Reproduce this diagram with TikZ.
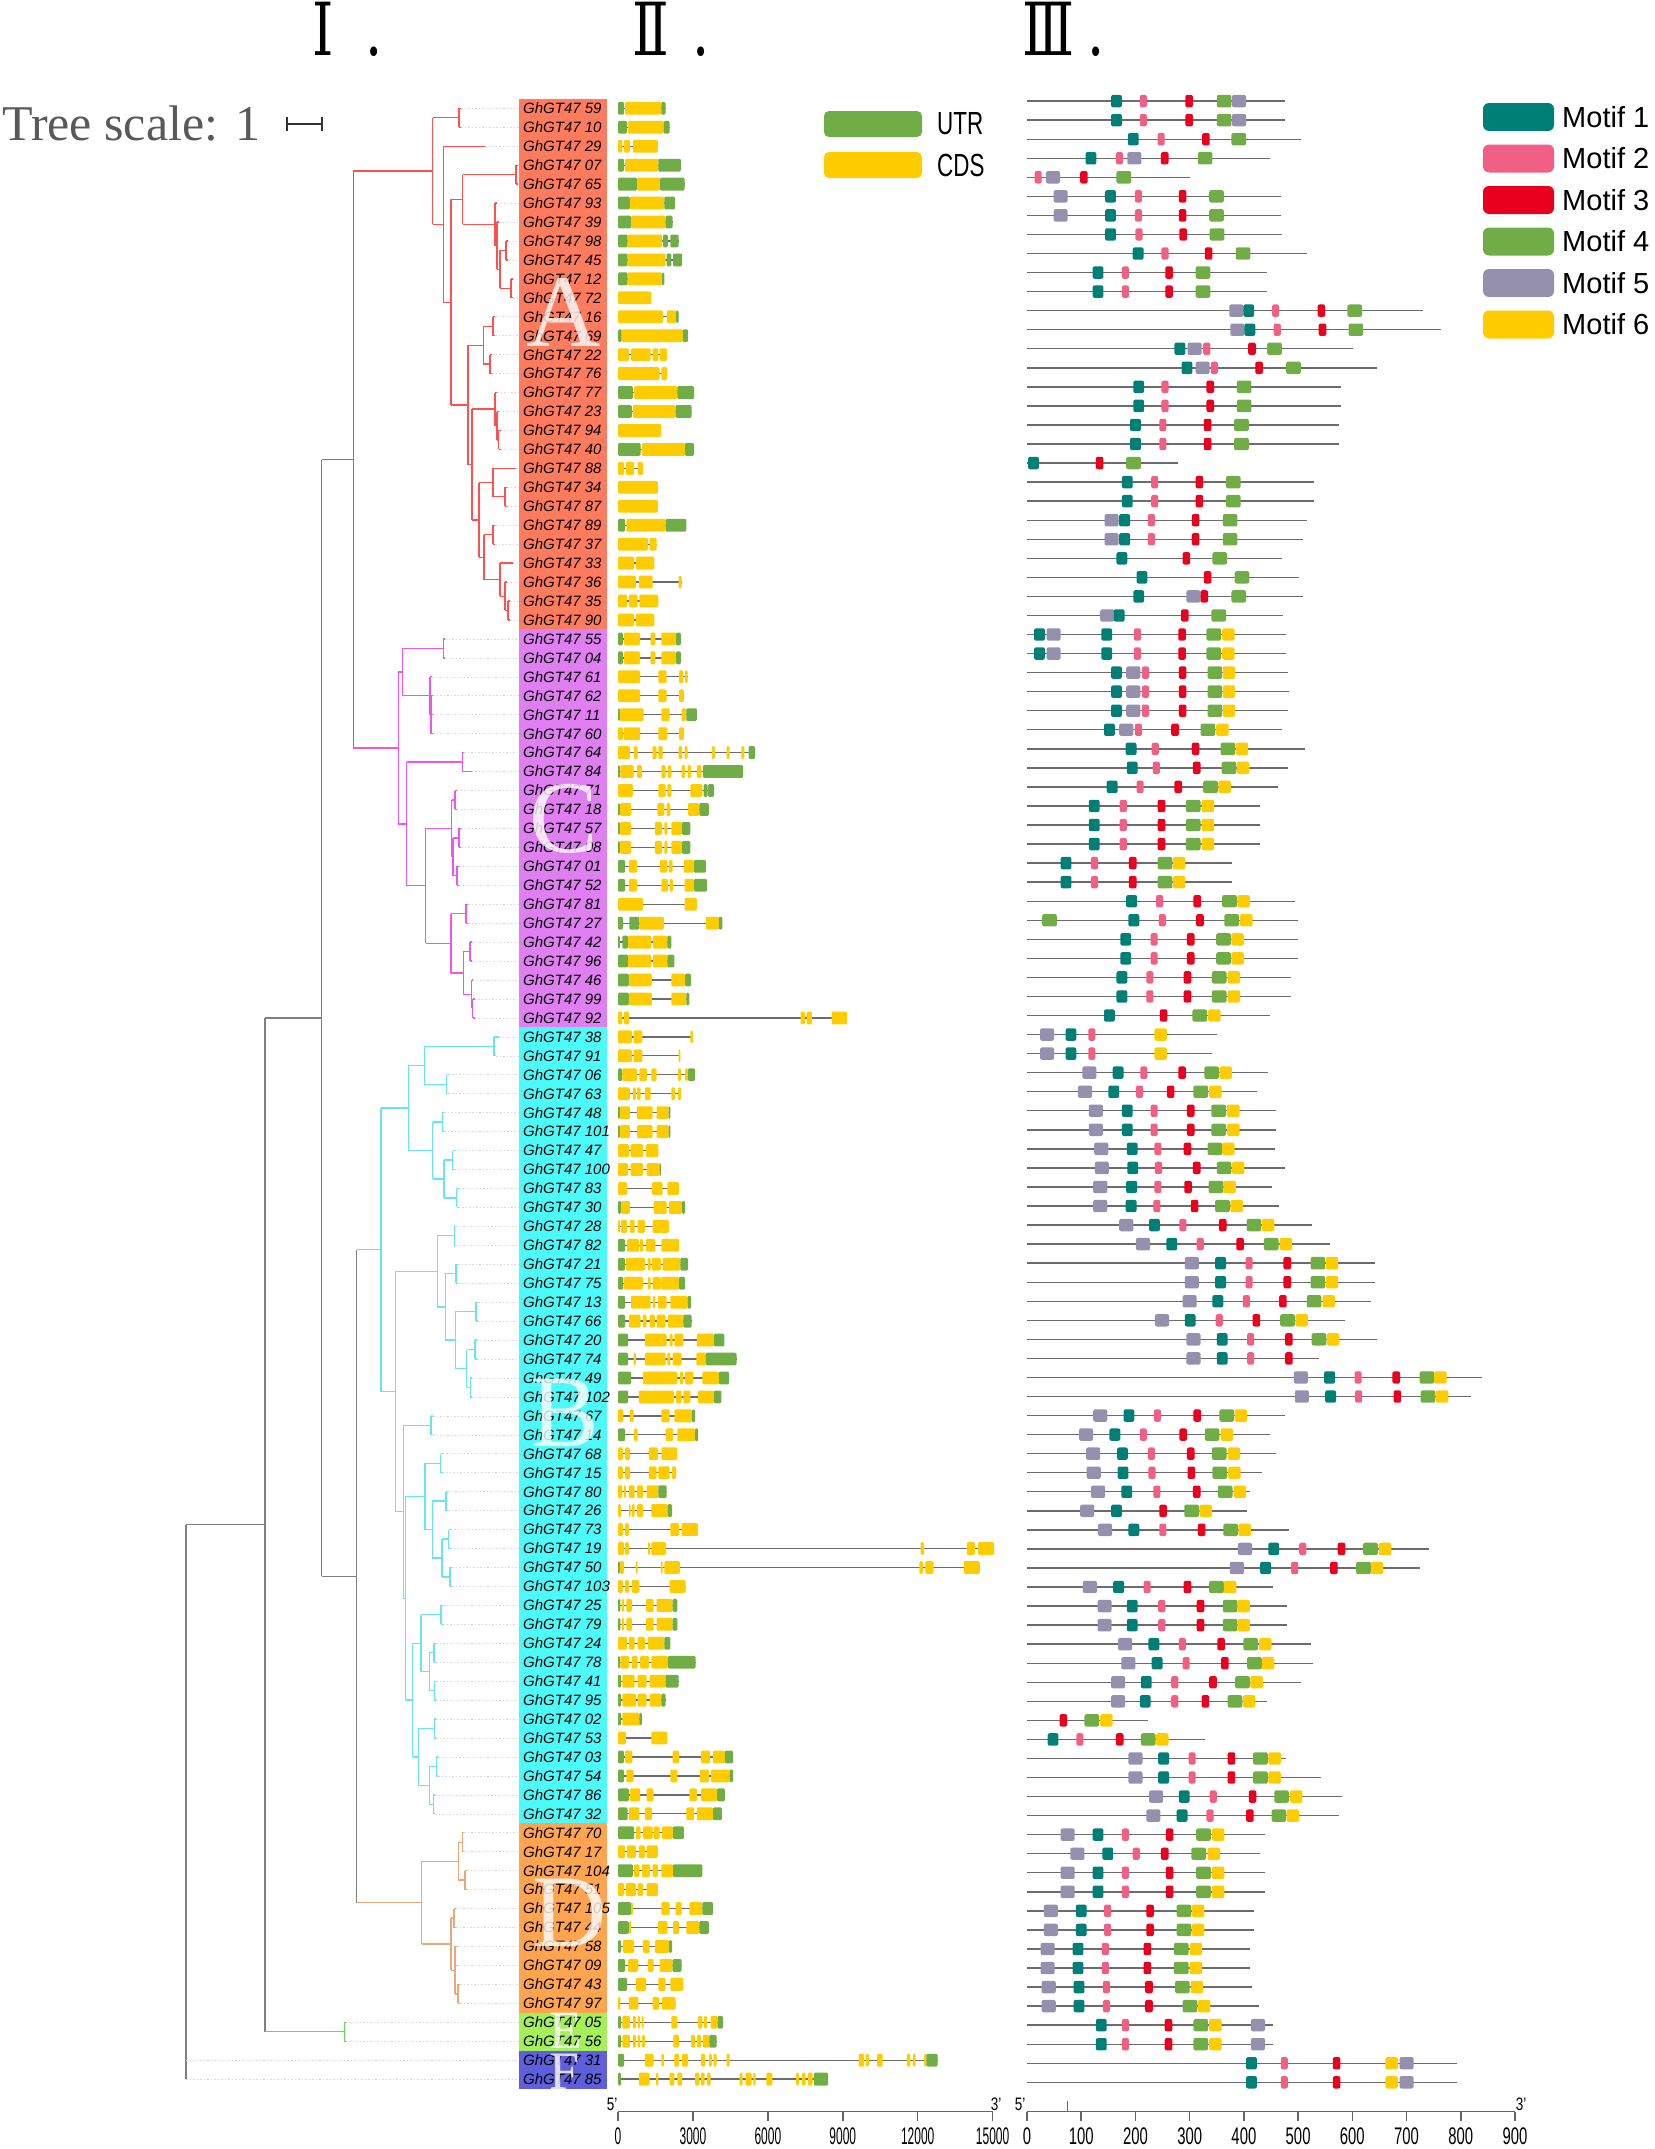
\documentclass[tikz,border=0pt]{standalone}
\usepackage{fontspec}
\usepackage{graphicx}
\setmainfont{Liberation Sans}
\newfontfamily\treefont{Liberation Serif}
\newfontfamily\romanfont{DejaVu Serif}
\usetikzlibrary{positioning}

\definecolor{treegray}{HTML}{808080}
\definecolor{treeA}{HTML}{FF5050}
\definecolor{treeC}{HTML}{EE55EE}
\definecolor{treeB}{HTML}{66E6F0}
\definecolor{treeD}{HTML}{E8A878}
\definecolor{treeE}{HTML}{55E055}
\definecolor{bandA}{HTML}{FF7B5E}
\definecolor{bandC}{HTML}{E07FF2}
\definecolor{bandB}{HTML}{4DFAFA}
\definecolor{bandD}{HTML}{FFA54F}
\definecolor{bandE}{HTML}{A5F05A}
\definecolor{bandF}{HTML}{5F5FDD}
\definecolor{gu}{HTML}{70AD47}
\definecolor{gc}{HTML}{FFCC00}
\definecolor{mot1}{HTML}{007F76}
\definecolor{mot2}{HTML}{F06084}
\definecolor{mot3}{HTML}{E8001E}
\definecolor{mot4}{HTML}{70AD47}
\definecolor{mot5}{HTML}{9490AE}
\definecolor{mot6}{HTML}{FFCC00}

\tikzset{
  leader/.style={draw=gray!30, line width=.6pt, dash pattern=on 1.5pt off 2pt},
  genelab/.style={anchor=west, inner sep=0pt, font=\fontsize{15}{18}\selectfont\itshape},
  groupletter/.style={text=white, text opacity=.8, inner sep=0pt, font=\treefont\fontsize{103}{103}\selectfont},
  smallletter/.style={groupletter, font=\treefont\fontsize{54}{54}\selectfont},
  headnum/.style={anchor=base west, inner sep=0pt, text height=48pt, text depth=0pt, font=\romanfont\fontsize{60}{60}\selectfont},
  intron/.style={draw=gray!85!black, line width=1.3pt},
  protline/.style={draw=gray!85!black, line width=1.4pt},
  axisline/.style={draw=gray!80!black, line width=1.5pt},
  ticklab/.style={anchor=center, inner sep=0pt, font=\fontsize{24}{24}\selectfont},
  endlab/.style={inner sep=0pt, font=\fontsize{18}{18}\selectfont},
  legtext/.style={anchor=west, inner sep=0pt, font=\fontsize{29}{29}\selectfont}
}

% parent x, node x, first child row, last child row
\newcommand{\clade}[4]{\draw (#1,{(#3+#4)/2}) -- (#2,{(#3+#4)/2}) (#2,#3) -- (#2,#4);}
\newcommand{\leaf}[3]{\draw (#1,#3) -- (#2,#3); \draw[leader] (#2,#3) -- (519,#3);}
\newcommand{\twin}[3]{\clade{#1}{#2}{#3}{#3+1}\leaf{#2}{#2+2}{#3}\leaf{#2}{#2+2}{#3+1}}
\newcommand{\narrow}[2][.5]{\scalebox{#1}[1]{#2}}

\begin{document}
\begin{tikzpicture}[x=1pt, y=-1pt]
\useasboundingbox (0,0) rectangle (1654,2149);

% tree
\begin{scope}[yshift=-89.35pt, y=-18.95pt, line width=1.3pt]
  \begin{scope}[treegray]
    \draw (186,75.75) -- (186,105);
    \draw[leader] (186,104) -- (519,104);
    \draw[leader] (186,105) -- (519,105);
    \clade{186}{265}{49}{102.5}
    \clade{265}{321.7}{19.535}{78.46}
    \clade{321.7}{353.3}{4.31}{34.76}
    \clade{321.7}{356.7}{61.23}{95.69}
  \end{scope}
  \begin{scope}[treeA]
    \clade{353.3}{432.7}{1.5}{7.115}
    \twin{432.7}{459}{1}
    \clade{432.7}{443.3}{3}{11.23}
    \leaf{443.3}{485}{3}
    \clade{443.3}{451}{5.8125}{16.65}
    \clade{451}{462.7}{4.5}{7.125}
    \twin{462.7}{516}{4}
    \clade{462.7}{495}{6}{8.25}
    \leaf{495}{497}{6}
    \clade{495}{497}{7}{9.5}
    \leaf{497}{499}{7}
    \clade{497}{500}{8.5}{10.5}
    \twin{500}{506}{8}
    \twin{500}{511}{10}
    \clade{451}{468}{13.5}{19.8}
    \clade{468}{483.3}{12.5}{14.5}
    \twin{483.3}{493}{12}
    \twin{483.3}{490}{14}
    \clade{468}{472}{16.875}{22.72}
    \clade{472}{495}{16}{17.75}
    \leaf{495}{497}{16}
    \clade{495}{497}{17}{18.5}
    \leaf{497}{499}{17}
    \twin{497}{498.5}{18}
    \clade{472}{479}{20.75}{24.6875}
    \clade{479}{493}{20}{21.5}
    \leaf{493}{516}{20}
    \twin{493}{505}{21}
    \clade{479}{484}{23.5}{25.875}
    \twin{484}{493}{23}
    \clade{484}{500}{25}{26.75}
    \leaf{500}{513}{25}
    \clade{500}{505}{26}{27.5}
    \leaf{505}{507}{26}
    \twin{505}{508}{27}
  \end{scope}
  \begin{scope}[treeC]
    \clade{353.3}{398.3}{30.75}{38.77}
    \clade{398.3}{402.3}{29.5}{32}
    \twin{402.3}{443.3}{29}
    \clade{402.3}{430}{31}{33}
    \leaf{430}{432}{31}
    \clade{430}{431}{32}{34}
    \leaf{431}{433}{32}
    \leaf{431}{433}{33}
    \leaf{431}{433}{34}
    \clade{398.3}{406.7}{35.5}{42.03}
    \clade{406.7}{462.3}{35}{36}
    \leaf{462.3}{464}{35}
    \leaf{462.3}{471.7}{36}
    \clade{406.7}{425.7}{39}{45.06}
    \clade{425.7}{451.7}{37.5}{40.5}
    \twin{451.7}{455}{37}
    \clade{451.7}{453}{39.5}{41.5}
    \twin{453}{459}{39}
    \twin{453}{457}{41}
    \clade{425.7}{451}{43.5}{46.625}
    \twin{451}{466}{43}
    \clade{451}{463.3}{45.5}{47.75}
    \twin{463.3}{470}{45}
    \clade{463.3}{471.7}{47}{48.5}
    \leaf{471.7}{473}{47}
    \twin{471.7}{472.5}{48}
  \end{scope}
  \begin{scope}[treeB]
    \clade{356.7}{381}{53.75}{68.72}
    \clade{381}{408.3}{51.5}{56}
    \clade{408.3}{424.3}{50.5}{52.5}
    \clade{424.3}{494}{50}{51}
    \leaf{494}{499}{50}
    \leaf{494}{496}{51}
    \twin{424.3}{446.7}{52}
    \clade{408.3}{432.7}{54.5}{57.5}
    \twin{432.7}{442.3}{54}
    \clade{432.7}{444}{56.5}{58.5}
    \twin{444}{452.7}{56}
    \twin{444}{456.7}{58}
    \clade{381}{395.3}{62.375}{75.06}
    \clade{395.3}{437.3}{60.5}{64.25}
    \twin{437.3}{454.3}{60}
    \clade{437.3}{445.3}{62.5}{66}
    \twin{445.3}{456}{62}
    \clade{445.3}{455.3}{64.5}{67.5}
    \twin{455.3}{476}{64}
    \clade{455.3}{466.7}{66.5}{68.5}
    \twin{466.7}{475}{66}
    \twin{466.7}{470.3}{68}
    \clade{395.3}{403.3}{70.5}{79.625}
    \twin{403.3}{431}{70}
    \clade{403.3}{405.7}{74.25}{85}
    \clade{405.7}{425}{72.5}{76}
    \twin{425}{440.7}{72}
    \clade{425}{432.3}{74.5}{77.5}
    \twin{432.3}{446}{74}
    \clade{432.3}{442}{76.5}{78.5}
    \twin{442}{448.7}{76}
    \twin{442}{450}{78}
    \clade{405.7}{412.7}{82}{88}
    \clade{412.7}{421}{80.5}{83.5}
    \twin{421}{441}{80}
    \clade{421}{429.3}{82.5}{84.5}
    \twin{429.3}{434}{82}
    \twin{429.3}{434.3}{84}
    \clade{412.7}{418.3}{86.5}{89.5}
    \twin{418.3}{434.3}{86}
    \clade{418.3}{429.3}{88.5}{90.5}
    \twin{429.3}{436.3}{88}
    \twin{429.3}{433.3}{90}
  \end{scope}
  \begin{scope}[treeD]
    \clade{356.7}{421.7}{93.5}{97.875}
    \clade{421.7}{458.3}{92.5}{94.5}
    \twin{458.3}{462.3}{92}
    \twin{458.3}{465}{94}
    \clade{421.7}{451}{96.5}{99.25}
    \twin{451}{454}{96}
    \clade{451}{455}{98}{100.5}
    \leaf{455}{457}{98}
    \leaf{455}{457}{99}
    \twin{455}{458}{100}
  \end{scope}
  \begin{scope}[treeE]
    \clade{265}{344.3}{102}{103}
    \leaf{344.3}{345.5}{102}
    \leaf{344.3}{345.5}{103}
  \end{scope}

  % group bands
  \fill[bandA] (519,0.5) rectangle (606.5,28.5);
  \fill[bandC] (519,28.5) rectangle (606.5,49.5);
  \fill[bandB] (519,49.5) rectangle (606.5,91.5);
  \fill[bandD] (519,91.5) rectangle (606.5,101.5);
  \fill[bandE] (519,101.5) rectangle (606.5,103.5);
  \fill[bandF] (519,103.5) rectangle (606.5,105.5);
\end{scope}

% gene names
\foreach \r/\gid in {1/59,2/10,3/29,4/07,5/65,6/93,7/39,8/98,9/45,10/12,11/72,12/16,13/69,14/22,15/76,16/77,17/23,18/94,19/40,20/88,21/34,22/87,23/89,24/37,25/33,26/36,27/35,28/90,29/55,30/04,31/61,32/62,33/11,34/60,35/64,36/84,37/71,38/18,39/57,40/08,41/01,42/52,43/81,44/27,45/42,46/96,47/46,48/99,49/92,50/38,51/91,52/06,53/63,54/48,55/101,56/47,57/100,58/83,59/30,60/28,61/82,62/21,63/75,64/13,65/66,66/20,67/74,68/49,69/102,70/67,71/14,72/68,73/15,74/80,75/26,76/73,77/19,78/50,79/103,80/25,81/79,82/24,83/78,84/41,85/95,86/02,87/53,88/03,89/54,90/86,91/32,92/70,93/17,94/104,95/51,96/105,97/44,98/58,99/09,100/43,101/97,102/05,103/56,104/31,105/85}
  \node[genelab] (lab\r) at (523,{89.35+18.95*\r}) {GhGT47 \gid};

% group letters
\node[groupletter] (grpA) at (564,312) {A};
\node[groupletter] (grpC) at (564,819) {C};
\node[groupletter] (grpB) at (564.5,1413) {B};
\node[groupletter] (grpD) at (570,1913) {D};
\node[smallletter] (grpE) at (566,2030.5) {E};
\node[smallletter] (grpF) at (565,2071.5) {F};

% gene structures (kb)
\foreach \r/\len/\segs in {
1/1.9/{u/0/.24,c/.28/1.73,u/1.73/1.9},
2/2.06/{u/0/.36,c/.4/1.83,u/1.83/2.06},
3/1.59/{c/0/.17,c/.24/.47,c/.59/1.59},
4/2.51/{u/0/.24,c/.28/1.61,u/1.61/2.51},
5/2.66/{u/0/.76,c/.76/1.68,u/1.68/2.66},
6/2.28/{u/0/.47,c/.47/1.85,u/1.85/2.28},
7/2.18/{u/0/.52,c/.52/1.9,u/1.9/2.18},
8/2.42/{u/0/.38,c/.38/1.76,u/1.8/1.99,u/2.09/2.42},
9/2.56/{u/0/.38,c/.38/1.9,u/1.94/2.13,u/2.2/2.56},
10/1.85/{u/0/.38,c/.38/1.76,u/1.76/1.85},
11/1.33/{c/0/1.33},
12/2.42/{c/0/1.8,c/1.95/2.32,u/2.32/2.42},
13/2.8/{u/0/.14,c/.14/2.59,u/2.59/2.8},
14/1.95/{c/0/.43,c/.52/1.3,c/1.38/1.61,c/1.66/1.95},
15/1.97/{c/0/1.66,c/1.73/1.97},
16/3.04/{u/0/.59,c/.64/2.37,u/2.37/3.04},
17/2.94/{u/0/.55,c/.59/2.3,u/2.3/2.94},
18/1.73/{c/0/1.73},
19/3.04/{u/0/.9,c/.95/2.68,u/2.68/3.04},
20/1.0/{c/0/.24,c/.31/.64,c/.78/1.0},
21/1.59/{c/0/1.59},
22/1.59/{c/0/1.59},
23/2.73/{u/0/.28,c/.33/1.9,u/1.9/2.73},
24/1.54/{c/0/1.19,c/1.26/1.54},
25/1.45/{c/0/.64,c/.71/1.45},
26/2.54/{c/0/.71,c/.83/1.38,c/2.42/2.54},
27/1.61/{c/0/.36,c/.43/.78,c/.85/1.61},
28/1.45/{c/0/.64,c/.71/1.45},
29/2.51/{u/0/.19,c/.24/.88,c/1.3/1.49,c/1.73/2.32,u/2.32/2.51},
30/2.51/{u/0/.19,c/.24/.88,c/1.3/1.49,c/1.73/2.32,u/2.32/2.51},
31/2.78/{c/0/.88,c/1.61/1.94,c/2.44/2.61,c/2.68/2.78},
32/2.63/{c/0/.88,c/1.61/1.94,c/2.44/2.63},
33/3.15/{u/0/.07,c/.07/1.02,c/1.73/2.06,c/2.54/2.73,u/2.73/3.15},
34/2.63/{c/0/.19,c/.24/.88,c/1.61/1.97,c/2.44/2.63},
35/5.48/{c/0/.47,c/.64/.78,c/1.38/1.54,c/1.61/1.78,c/2.42/2.56,c/2.66/2.78,c/3.75/3.87,c/4.34/4.46,c/4.93/5.05,u/5.22/5.48},
36/5.0/{u/0/.07,c/.09/.62,c/.76/.95,c/1.73/1.9,c/1.99/2.13,c/2.54/2.68,c/2.78/2.92,c/3.15/3.34,u/3.39/5.0},
37/3.84/{c/0/.59,c/1.61/1.9,c/1.97/2.13,c/2.89/3.37,u/3.42/3.58,u/3.6/3.84},
38/3.63/{u/0/.07,c/.07/.52,c/1.57/1.85,c/1.94/2.09,c/2.8/3.25,u/3.25/3.63},
39/2.89/{u/0/.07,c/.07/.52,c/1.47/1.75,c/1.85/1.97,c/2.13/2.56,u/2.56/2.89},
40/2.89/{u/0/.07,c/.07/.52,c/1.47/1.75,c/1.85/1.97,c/2.13/2.56,u/2.56/2.89},
41/3.51/{u/0/.28,c/.43/.76,c/1.68/1.97,c/2.04/2.18,c/2.63/3.04,u/3.04/3.51},
42/3.56/{u/0/.28,c/.43/.76,c/1.73/1.99,c/2.06/2.2,c/2.66/3.04,u/3.04/3.56},
43/3.15/{c/0/1.0,c/2.66/3.15},
44/4.17/{u/0/.19,u/.45/.85,c/.85/1.83,c/3.51/4.03,u/4.03/4.17},
45/2.13/{u/0/.07,u/.17/.4,c/.4/1.33,c/1.4/1.97,u/1.97/2.13},
46/2.25/{u/0/.4,c/.4/1.33,c/1.4/1.97,u/1.97/2.25},
47/2.92/{u/0/.43,c/.43/1.35,c/2.13/2.68,u/2.68/2.92},
48/2.85/{u/0/.43,c/.43/1.35,c/2.13/2.73,u/2.73/2.85},
49/9.15/{c/0/.17,c/.24/.43,c/7.3/7.47,c/7.54/7.75,c/8.54/9.15},
50/2.99/{c/0/.55,c/.62/.97,c/2.89/2.99},
51/2.49/{c/0/.55,c/.62/.97,c/2.42/2.49},
52/3.08/{u/0/.17,c/.17/.76,c/.85/1.16,c/1.33/1.54,c/2.4/2.52,c/2.68/2.8,u/2.8/3.08},
53/2.52/{c/0/.47,c/.59/.71,c/.76/.9,c/1.07/1.3,c/2.13/2.28,c/2.4/2.52},
54/2.09/{u/0/.07,c/.07/.47,c/.76/1.38,c/1.54/2.02,u/2.02/2.09},
55/2.09/{u/0/.07,c/.07/.47,c/.76/1.38,c/1.54/2.02,u/2.02/2.09},
56/1.61/{c/0/.43,c/.5/1.0,c/1.12/1.61},
57/1.71/{c/0/.4,c/.5/1.0,c/1.14/1.66,u/1.66/1.71},
58/2.44/{c/0/.36,c/1.35/1.78,c/1.97/2.44},
59/2.68/{u/0/.12,c/.12/.47,c/1.42/1.94,c/2.04/2.56,u/2.56/2.68},
60/2.04/{c/0/.07,c/.12/.36,c/.47/.66,c/.78/1.07,c/1.38/2.04},
61/2.44/{u/0/.28,c/.36/.83,c/.88/1.0,c/1.12/1.49,c/1.73/2.44},
62/2.8/{u/0/.28,c/.31/1.07,c/1.19/1.3,c/1.35/1.71,c/1.78/2.49,u/2.49/2.8},
63/2.68/{u/0/.21,c/.24/1.0,c/1.19/1.3,c/1.38/1.71,c/1.73/2.44,u/2.44/2.68},
64/2.92/{u/0/.28,c/.52/1.3,c/1.4/1.49,c/1.59/1.94,c/2.09/2.78,u/2.78/2.92},
65/2.94/{u/0/.28,c/.43/.9,c/.99/1.14,c/1.26/1.47,c/1.54/1.9,c/1.99/2.61,u/2.61/2.94},
66/4.25/{u/0/.4,c/1.07/1.94,c/2.06/2.18,c/2.25/2.61,c/3.15/3.84,u/3.84/4.25},
67/4.74/{u/0/.4,c/.62/.71,c/1.07/1.9,c/1.97/2.09,c/2.18/2.54,c/3.13/3.51,u/3.51/4.74},
68/4.44/{u/0/.52,c/1.0/2.37,c/2.47/2.61,c/2.68/3.01,c/3.37/4.03,u/4.03/4.44},
69/4.13/{u/0/.4,c/.83/2.23,c/2.32/2.54,c/2.61/2.89,c/3.2/3.84,u/3.84/4.13},
70/3.08/{c/0/.21,c/.47/.62,c/1.73/2.06,c/2.25/2.96,u/2.96/3.08},
71/3.2/{u/0/.28,c/.64/.78,c/1.9/2.2,c/2.37/3.08,u/3.08/3.2},
72/2.37/{c/0/.19,c/.28/.47,c/1.23/1.59,c/1.73/2.37},
73/2.32/{c/0/.19,c/.28/.47,c/1.23/1.54,c/1.61/2.06,c/2.16/2.32},
74/1.94/{c/0/.17,c/.24/.31,c/.43/.66,c/.76/1.0,c/1.14/1.61,u/1.61/1.94},
75/2.16/{c/0/.12,c/.43/.5,c/.55/.66,c/.76/1.0,c/1.33/1.99,u/1.99/2.16},
76/3.2/{c/0/.19,c/.28/.43,c/2.09/2.44,c/2.54/3.2},
77/15.04/{c/0/.24,c/.28/.43,c/1.19/1.28,c/1.33/1.92,c/12.1/12.24,c/13.95/14.28,c/14.4/15.04},
78/14.47/{u/0/.07,c/.07/.24,c/.71/.78,c/1.71/1.78,c/1.85/2.47,c/12.05/12.19,c/12.29/12.62,c/13.83/14.47},
79/2.7/{c/0/.19,c/.28/.43,c/.55/.85,c/2.06/2.7},
80/2.37/{u/0/.09,c/.14/.24,c/.33/.55,c/1.12/1.42,c/1.54/2.18,u/2.18/2.37},
81/2.37/{u/0/.09,c/.14/.24,c/.33/.55,c/1.12/1.42,c/1.54/2.18,u/2.18/2.37},
82/2.09/{c/0/.36,c/.43/.66,c/.78/1.07,c/1.19/1.85,u/1.85/2.09},
83/3.1/{u/0/.07,c/.09/.43,c/.55/.78,c/.88/1.23,c/1.33/1.99,u/1.99/3.1},
84/2.42/{u/0/.12,c/.17/.66,c/.78/1.14,c/1.26/1.9,u/1.9/2.42},
85/1.9/{u/0/.12,c/.17/.71,c/.78/1.14,c/1.26/1.73,u/1.73/1.9},
86/.95/{u/0/.12,c/.17/.85,u/.85/.95},
87/1.97/{c/0/.31,c/1.33/1.97},
88/4.6/{u/0/.24,c/.28/.57,c/2.18/2.44,c/3.32/3.68,c/3.79/4.27,u/4.27/4.6},
89/4.6/{u/0/.24,c/.33/.62,c/2.09/2.37,c/3.27/3.63,c/3.72/4.46,u/4.46/4.6},
90/4.27/{u/0/.43,c/.47/.88,c/1.14/1.42,c/2.85/3.15,c/3.32/3.96,u/3.96/4.27},
91/4.15/{u/0/.38,c/.43/.85,c/1.07/1.35,c/2.73/3.04,c/3.15/3.8,u/3.8/4.15},
92/2.63/{u/0/.64,c/.71/.9,c/1.0/1.38,c/1.42/1.66,c/1.76/2.2,u/2.2/2.63},
93/1.59/{c/0/.28,c/.36/.71,c/.83/1.07,c/1.14/1.59},
94/3.37/{u/0/.59,c/.64/.85,c/.95/1.28,c/1.38/1.59,c/1.73/2.2,u/2.2/3.37},
95/1.59/{c/0/.24,c/.31/.71,c/.78/.99,c/1.14/1.59},
96/3.8/{u/0/.52,c/.52/.59,c/1.73/2.06,c/2.3/2.54,c/2.85/3.37,u/3.37/3.8},
97/3.63/{u/0/.43,c/.43/.52,c/1.59/1.97,c/2.2/2.44,c/2.73/3.25,u/3.25/3.63},
98/2.16/{u/0/.12,c/.19/.64,c/.99/1.26,c/1.47/2.04,u/2.04/2.16},
99/2.54/{u/0/.28,c/.4/.81,c/1.19/1.42,c/1.66/2.18,u/2.18/2.54},
100/2.61/{u/0/.36,c/.71/1.12,c/1.61/1.9,c/2.09/2.61},
101/2.3/{c/0/.09,c/.43/.81,c/1.38/1.64,c/1.76/2.3},
102/4.2/{u/0/.12,c/.17/.47,c/.59/.71,c/.78/.88,c/.95/1.02,c/2.13/2.37,c/3.2/3.37,c/3.44/3.56,c/3.7/3.98,u/3.98/4.2},
103/3.94/{u/0/.12,c/.17/.47,c/.59/.71,c/.78/.88,c/.95/1.07,c/2.21/2.44,c/2.92/3.08,c/3.15/3.32,c/3.39/3.65,u/3.65/3.94},
104/12.78/{u/0/.24,c/1.07/1.42,c/1.73/1.83,c/2.25/2.44,c/2.56/2.8,c/3.32/3.49,c/3.63/3.75,c/3.82/3.94,c/4.34/4.46,c/9.63/9.84,c/9.91/10.03,c/10.36/10.58,c/11.55/11.69,c/11.79/11.9,c/12.24/12.33,u/12.33/12.78},
105/8.4/{u/0/.12,c/.83/1.26,c/1.52/1.61,c/2.06/2.25,c/2.37/2.56,c/3.08/3.25,c/3.32/3.46,c/3.56/3.7,c/4.86/4.98,c/5.1/5.34,c/5.41/5.5,c/5.93/6.17,c/7.12/7.23,c/7.35/7.5,c/7.59/7.78,u/7.83/8.4}}
{
  \pgfmathsetmacro\yy{89.35+18.95*\r}
  \draw[intron] (618,\yy) -- ({618+25*\len},\yy);
  \foreach \t/\a/\b in \segs {
    \edef\gcol{g\t}
    \fill[fill=\gcol, rounded corners=1.2pt] ({618+25*\a},\yy-6.4) rectangle ({618+25*\b},\yy+6.4);
  }
}

% conserved motifs (aa)
\foreach \r/\len/\ms in {
1/476/{1/155,2/208,3/292,4/350,5/378},
2/476/{1/155,2/208,3/292,4/350,5/378},
3/505/{1/186,2/241,3/323,4/377},
4/448/{1/108,2/164,5/185,3/247,4/315},
5/301/{2/14,5/35,3/98,4/165},
6/468/{5/49,1/144,2/199,3/280,4/336},
7/468/{5/49,1/144,2/199,3/280,4/336},
8/470/{1/144,2/200,3/281,4/337},
9/517/{1/195,2/248,3/328,4/385},
10/443/{1/121,2/175,3/255,4/311},
11/443/{1/121,2/175,3/255,4/311},
12/731/{5/373,1/399,2/452,3/536,4/591},
13/763/{5/375,1/401,2/455,3/538,4/593},
14/602/{1/272,5/296,2/325,3/408,4/443},
15/645/{1/285,5/311,2/339,3/421,4/478},
16/580/{1/196,2/248,3/331,4/387},
17/580/{1/196,2/248,3/331,4/387},
18/576/{1/190,2/244,3/326,4/382},
19/576/{1/190,2/244,3/326,4/382},
20/279/{1/2,3/127,4/183},
21/530/{1/175,2/229,3/311,4/367},
22/530/{1/175,2/229,3/311,4/367},
23/517/{5/143,1/170,2/223,3/304,4/361},
24/509/{5/143,1/170,2/223,3/304,4/361},
25/470/{1/165,3/287,4/342},
26/501/{1/202,3/326,4/383},
27/509/{1/196,5/294,3/320,4/377},
28/473/{5/135,1/160,3/284,4/340},
29/478/{1/13,5/36,1/137,2/197,3/279,4/331,6/360},
30/478/{1/13,5/36,1/137,2/197,3/279,4/331,6/360},
31/481/{1/155,5/183,2/212,3/280,4/333,6/361},
32/483/{1/155,5/183,2/212,3/280,4/333,6/361},
33/482/{1/155,5/183,2/212,3/280,4/333,6/361},
34/470/{1/142,5/170,2/199,3/266,4/320,6/349},
35/512/{1/182,2/230,3/304,4/357,6/385},
36/481/{1/184,2/232,3/306,4/359,6/387},
37/463/{1/147,2/202,3/272,4/325,6/353},
38/430/{1/114,2/171,3/241,4/293,6/322},
39/430/{1/114,2/171,3/241,4/293,6/322},
40/430/{1/114,2/171,3/241,4/293,6/322},
41/378/{1/62,2/118,3/188,4/241,6/269},
42/378/{1/62,2/118,3/188,4/241,6/269},
43/494/{1/183,2/238,3/307,4/360,6/388},
44/500/{4/28,1/187,2/243,3/312,4/364,6/393},
45/499/{1/172,2/228,3/295,4/349,6/377},
46/499/{1/172,2/228,3/295,4/349,6/377},
47/486/{1/165,2/220,3/289,4/341,6/370},
48/486/{1/165,2/220,3/289,4/341,6/370},
49/448/{1/142,3/245,4/305,6/334},
50/350/{5/24,1/71,2/113,6/235},
51/342/{5/24,1/71,2/113,6/235},
52/444/{5/102,1/158,2/209,3/279,4/327,6/355},
53/424/{5/94,1/150,2/201,3/258,4/307,6/336},
54/459/{5/114,1/175,2/228,3/295,4/340,6/369},
55/459/{5/114,1/175,2/228,3/295,4/340,6/369},
56/457/{5/124,1/184,2/235,3/289,4/333,6/360},
57/476/{5/125,1/185,2/236,3/306,4/350,6/378},
58/451/{5/122,1/183,2/235,3/290,4/335,6/362},
59/465/{5/122,1/182,2/233,3/302,4/347,6/375},
60/525/{5/170,1/225,2/281,3/354,4/405,6/433},
61/558/{5/201,1/257,2/313,3/386,4/437,6/466},
62/642/{5/291,1/347,2/403,3/473,4/523,6/551},
63/642/{5/291,1/347,2/403,3/473,4/523,6/551},
64/634/{5/287,1/342,2/398,3/465,4/516,6/545},
65/586/{5/236,1/291,2/348,3/416,4/467,6/495},
66/645/{5/294,1/350,2/406,3/476,4/525,6/553},
67/538/{5/294,1/350,2/406,3/476},
68/840/{5/492,1/548,2/604,3/674,4/724,6/751},
69/818/{5/494,1/550,2/605,3/676,4/726,6/754},
70/476/{5/122,1/178,2/234,3/307,4/355,6/383},
71/448/{5/96,1/152,2/208,3/281,4/328,6/357},
72/459/{5/109,1/166,2/223,3/295,4/341,6/370},
73/434/{5/110,1/167,2/224,3/296,4/342,6/371},
74/412/{5/118,1/174,2/233,3/306,4/352,6/381},
75/406/{5/98,1/155,3/244,4/290,6/318},
76/483/{5/131,1/187,2/244,3/315,4/362,6/390},
77/742/{5/389,1/445,2/502,3/573,4/620,6/649},
78/725/{5/374,1/430,2/487,3/559,4/607,6/634},
79/454/{5/103,1/159,2/215,3/289,4/336,6/363},
80/479/{5/130,1/184,2/242,3/313,4/361,6/388},
81/479/{5/130,1/184,2/242,3/313,4/361,6/388},
82/523/{5/168,1/224,2/280,3/351,4/399,6/428},
83/528/{5/174,1/230,2/287,3/358,4/406,6/433},
84/506/{5/155,1/210,2/266,3/336,4/384,6/412},
85/443/{5/155,1/208,2/266,3/322,4/370,6/398},
86/224/{3/60,4/106,6/135},
87/328/{1/38,2/91,3/164,4/210,6/238},
88/478/{5/187,1/242,2/298,3/370,4/417,6/445},
89/543/{5/187,1/242,2/298,3/370,4/417,6/445},
90/581/{5/225,1/280,2/337,3/409,4/456,6/485},
91/576/{5/220,1/276,2/331,3/404,4/451,6/479},
92/438/{5/62,1/121,2/175,3/256,4/312,6/341},
93/429/{5/80,1/139,2/195,3/247,4/303,6/333},
94/438/{5/62,1/121,2/175,3/256,4/312,6/341},
95/439/{5/62,1/121,2/175,3/256,4/312,6/341},
96/418/{5/31,1/90,2/142,3/220,4/276,6/304},
97/418/{5/31,1/90,2/142,3/220,4/276,6/304},
98/412/{5/25,1/84,2/138,3/215,4/271,6/300},
99/412/{5/25,1/84,2/138,3/215,4/271,6/300},
100/415/{5/27,1/86,2/140,3/218,4/273,6/302},
101/427/{5/27,1/86,2/140,3/218,4/287,6/315},
102/454/{1/127,2/175,3/254,4/307,6/336,5/413},
103/454/{1/127,2/175,3/254,4/307,6/336,5/413},
104/793/{1/404,2/468,3/564,6/661,5/687},
105/793/{1/404,2/468,3/564,6/661,5/687}}
{
  \pgfmathsetmacro\yy{82.05+19.05*\r}
  \draw[protline] (1027,\yy) -- ({1027+0.5422*\len},\yy);
  \foreach \m/\s in \ms {
    \pgfmathsetmacro\w{{20,13,14,27,26,23}[\m-1]}
    \edef\mcol{mot\m}
    \fill[fill=\mcol, rounded corners=2pt] ({1027+0.5422*\s},\yy-6.2) rectangle ({1027+0.5422*(\s+\w)},\yy+6.2);
  }
}

% headers
\node[headnum] (headI) at (312,56) {\scalebox{.9}[1.22]{Ⅰ\hspace{36pt}.}};
\node[headnum] (headII) at (632,56) {\scalebox{.9}[1.22]{Ⅱ\hspace{26pt}.}};
\node[headnum] (headIII) at (1022,56) {\scalebox{.9}[1.22]{Ⅲ\hspace{15pt}.}};

% tree scale
\node[anchor=base west, inner sep=0pt, text=black!65] (treescale) at (2,140) {\treefont\fontsize{50}{50}\selectfont Tree scale: 1};
\draw[black!80, line width=1.5pt] (287,124) -- (322,124) (287,117) -- (287,131) (322,117) -- (322,131);

% gene structure legend
\fill[gu, rounded corners=5pt] (824,111) rectangle (922,137);
\fill[gc, rounded corners=5pt] (824,152) rectangle (922,178);
\node[anchor=west, inner sep=0pt, font=\fontsize{32}{32}\selectfont] (utrlab) at (937,124) {\narrow[.7]{UTR}};
\node[anchor=west, inner sep=0pt, font=\fontsize{32}{32}\selectfont] (cdslab) at (937,165) {\narrow[.7]{CDS}};

% motif legend
\foreach \k in {1,...,6} {
  \pgfmathsetmacro\ly{117+41.5*(\k-1)}
  \fill[mot\k, rounded corners=6pt] (1483,\ly-14) rectangle (1554,\ly+14);
  \node[legtext] (motlab\k) at (1562,\ly) {Motif \k};
}

% gene length axis
\draw[axisline] (618,2111.7) -- (992.6,2111.7);
\foreach \v [count=\i from 0] in {0,3000,6000,9000,12000,15000} {
  \draw[axisline] ({618+74.92*\i},2111.7) -- ({618+74.92*\i},2121);
  \node[ticklab] (gtick\i) at ({618+74.92*\i},2136) {\narrow{\v}};
}
\node[endlab] (g5) at (612,2104) {\narrow[.75]{5'}};
\node[endlab] (g3) at (996,2104) {\narrow[.75]{3'}};

% protein length axis
\draw[axisline] (1027,2111.7) -- (1515,2111.7);
\draw[axisline] (1067.5,2111.7) -- (1067.5,2100.5);
\foreach \v [count=\i from 0] in {0,100,...,900} {
  \draw[axisline] ({1027+54.22*\i},2111.7) -- ({1027+54.22*\i},2121);
  \node[ticklab] (ptick\i) at ({1027+54.22*\i},2136) {\narrow[.62]{\v}};
}
\node[endlab] (p5) at (1020,2104) {\narrow[.75]{5'}};
\node[endlab] (p3) at (1521,2104) {\narrow[.75]{3'}};
\end{tikzpicture}
\end{document}
